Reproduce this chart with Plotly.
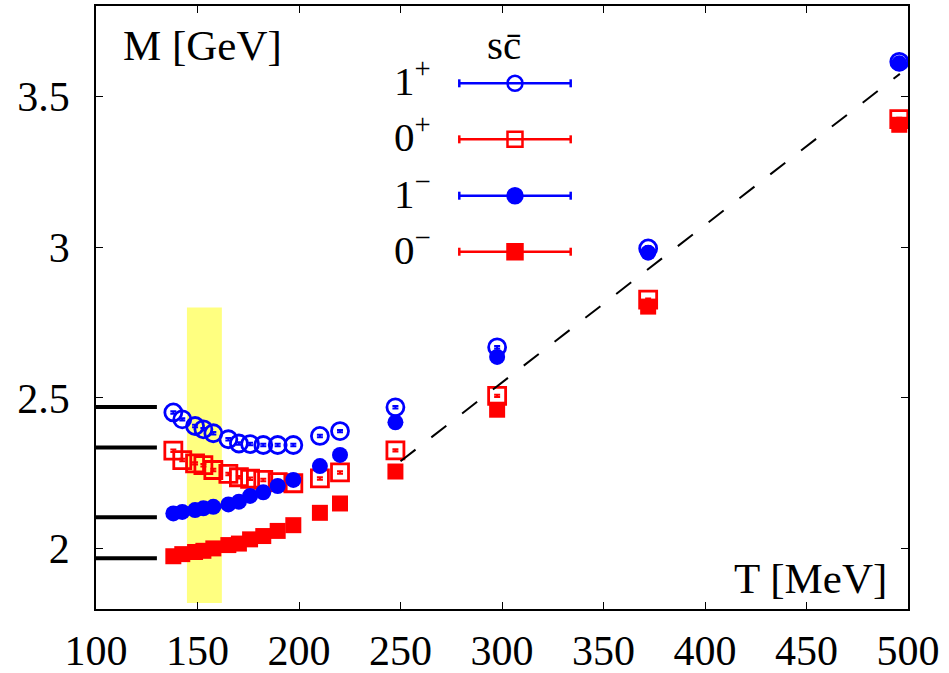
import plotly.graph_objects as go

# ---------------- data ----------------
T = [138.1, 142.5, 148.8, 152.9, 157.8, 165.2, 170.4, 175.9, 182.4, 189.5,
     197.2, 210.3, 220.2, 247.5, 297.6, 372.0, 495.7]

M_1p = [2.452, 2.429, 2.407, 2.396, 2.383, 2.363, 2.349, 2.347, 2.344, 2.344,
        2.344, 2.374, 2.390, 2.469, 2.668, 2.996, 3.615]
M_0p = [2.325, 2.294, 2.283, 2.277, 2.261, 2.248, 2.237, 2.232, 2.228, 2.221,
        2.217, 2.233, 2.253, 2.326, 2.507, 2.826, 3.425]
M_1m = [2.117, 2.122, 2.128, 2.134, 2.139, 2.147, 2.156, 2.175, 2.187, 2.208,
        2.228, 2.274, 2.311, 2.419, 2.636, 2.982, 3.610]
M_0m = [1.975, 1.982, 1.989, 1.993, 2.001, 2.012, 2.017, 2.031, 2.042, 2.059,
        2.078, 2.119, 2.150, 2.256, 2.461, 2.803, 3.406]

E_1p = [0.004, 0.004, 0.004, 0.004, 0.004, 0.004, 0.004, 0.004, 0.004, 0.004,
        0.004, 0.004, 0.004, 0.004, 0.004, 0.008, 0.004]
E_0p = [0.004, 0.004, 0.004, 0.004, 0.004, 0.004, 0.004, 0.004, 0.004, 0.004,
        0.004, 0.004, 0.004, 0.004, 0.004, 0.004, 0.004]
E_1m = [0.002, 0.002, 0.002, 0.002, 0.002, 0.002, 0.002, 0.002, 0.002, 0.002,
        0.002, 0.002, 0.002, 0.002, 0.002, 0.002, 0.002]
E_0m = [0.002, 0.002, 0.002, 0.002, 0.002, 0.002, 0.002, 0.002, 0.002, 0.002,
        0.002, 0.002, 0.002, 0.002, 0.002, 0.002, 0.002]

# experimental (T=0) masses shown as black bars on the left
exp_masses = [2.470, 2.336, 2.104, 1.968]
exp_T_range = [100, 130]

# pseudo-critical temperature band
tc_band_T = [144.8, 162.0]
tc_band_M = [1.82, 2.80]

# dashed reference line
dash_T = [250.0, 496.0]
dash_M = [2.29, 3.575]

x_ticks = [100, 150, 200, 250, 300, 350, 400, 450, 500]
y_ticks = [2, 2.5, 3, 3.5]

labels = ["1<sup>+</sup>", "0<sup>+</sup>", "1<sup>\u2212</sup>", "0<sup>\u2212</sup>"]
colors = ["#0000ff", "#ff0000", "#0000ff", "#ff0000"]
symbols = ["circle-open", "square-open", "circle", "square"]
series = [M_1p, M_0p, M_1m, M_0m]
errors = [E_1p, E_0p, E_1m, E_0m]

FONT = "Liberation Serif, Times New Roman, serif"

fig = go.Figure()

for m, e, c, s, lab in zip(series, errors, colors, symbols, labels):
    is_open = "open" in s
    fig.add_trace(go.Scatter(
        x=T, y=m, mode="markers", name=lab, showlegend=False,
        marker=dict(symbol=s, size=17 if is_open else 16, color=c,
                    line=dict(color=c, width=2.8 if is_open else 0)),
        error_y=dict(type="data", array=e, visible=True, color=c,
                     thickness=2, width=3),
    ))

fig.add_trace(go.Scatter(
    x=dash_T, y=dash_M, mode="lines", showlegend=False,
    line=dict(color="black", width=2, dash="19px,20px"),
))

shapes = []
# yellow band
shapes.append(dict(type="rect", xref="x", yref="y",
                   x0=tc_band_T[0], x1=tc_band_T[1],
                   y0=tc_band_M[0], y1=tc_band_M[1],
                   fillcolor="#ffff80", line=dict(width=0), layer="below"))
# experimental bars
for m in exp_masses:
    shapes.append(dict(type="line", xref="x", yref="y",
                       x0=exp_T_range[0], x1=exp_T_range[1], y0=m, y1=m,
                       line=dict(color="black", width=4), layer="above"))

# custom legend (gnuplot-style error-bar sample)
leg_x0, leg_x1, leg_xm = 0.4474, 0.5846, 0.516
leg_y = [0.8718, 0.7789, 0.6854, 0.5925]
for yy, c, s in zip(leg_y, colors, symbols):
    shapes.append(dict(type="line", xref="paper", yref="paper",
                       x0=leg_x0, x1=leg_x1, y0=yy, y1=yy,
                       line=dict(color=c, width=2.5)))
    for xx in (leg_x0, leg_x1):
        shapes.append(dict(type="line", xref="paper", yref="paper",
                           xsizemode="pixel", ysizemode="pixel",
                           xanchor=xx, yanchor=yy, x0=0, x1=0, y0=-4, y1=4,
                           line=dict(color=c, width=2.5)))
    filled = "open" not in s
    shp = "circle" if "circle" in s else "rect"
    shapes.append(dict(type=shp, xref="paper", yref="paper",
                       xsizemode="pixel", ysizemode="pixel",
                       xanchor=leg_xm, yanchor=yy, x0=-7.5, x1=7.5, y0=-7.5, y1=7.5,
                       fillcolor=c if filled else "rgba(0,0,0,0)",
                       line=dict(color=c, width=2.5)))

annotations = []
for yy, lab in zip(leg_y, labels):
    annotations.append(dict(xref="paper", yref="paper", x=0.415, y=yy + 0.008,
                            text=lab, showarrow=False, xanchor="right",
                            yanchor="middle",
                            font=dict(family=FONT, size=41, color="black")))
annotations.append(dict(xref="paper", yref="paper", x=0.502, y=0.935,
                        text="sc\u0304", showarrow=False, xanchor="center",
                        yanchor="middle",
                        font=dict(family=FONT, size=41, color="black")))
annotations.append(dict(xref="paper", yref="paper", x=0.031, y=0.935,
                        text="M [GeV]", showarrow=False, xanchor="left",
                        yanchor="middle",
                        font=dict(family=FONT, size=43, color="black")))
annotations.append(dict(xref="paper", yref="paper", x=0.976, y=0.05,
                        text="T [MeV]", showarrow=False, xanchor="right",
                        yanchor="middle",
                        font=dict(family=FONT, size=43, color="black")))

fig.update_layout(
    width=949, height=673,
    margin=dict(l=96, r=41, t=6, b=64, autoexpand=False),
    paper_bgcolor="white", plot_bgcolor="white",
    shapes=shapes, annotations=annotations,
    font=dict(family=FONT, size=42, color="black"),
    xaxis=dict(range=[100, 500], tickvals=x_ticks, ticks="inside", ticklen=7,
               tickcolor="black", showline=True, linecolor="black",
               linewidth=1.5, mirror="allticks", showgrid=False,
               zeroline=False, ticklabelstandoff=4,
               tickfont=dict(family=FONT, size=42, color="black")),
    yaxis=dict(range=[1.8, 3.8], tickvals=y_ticks, ticks="inside", ticklen=7,
               tickcolor="black", showline=True, linecolor="black",
               linewidth=1.5, mirror="allticks", showgrid=False,
               zeroline=False, ticklabelstandoff=16,
               tickfont=dict(family=FONT, size=42, color="black")),
)

fig.write_html("out.html",
               config={"displayModeBar": False},
               post_script="document.body.style.margin='0';"
                           "document.body.style.overflow='hidden';")
